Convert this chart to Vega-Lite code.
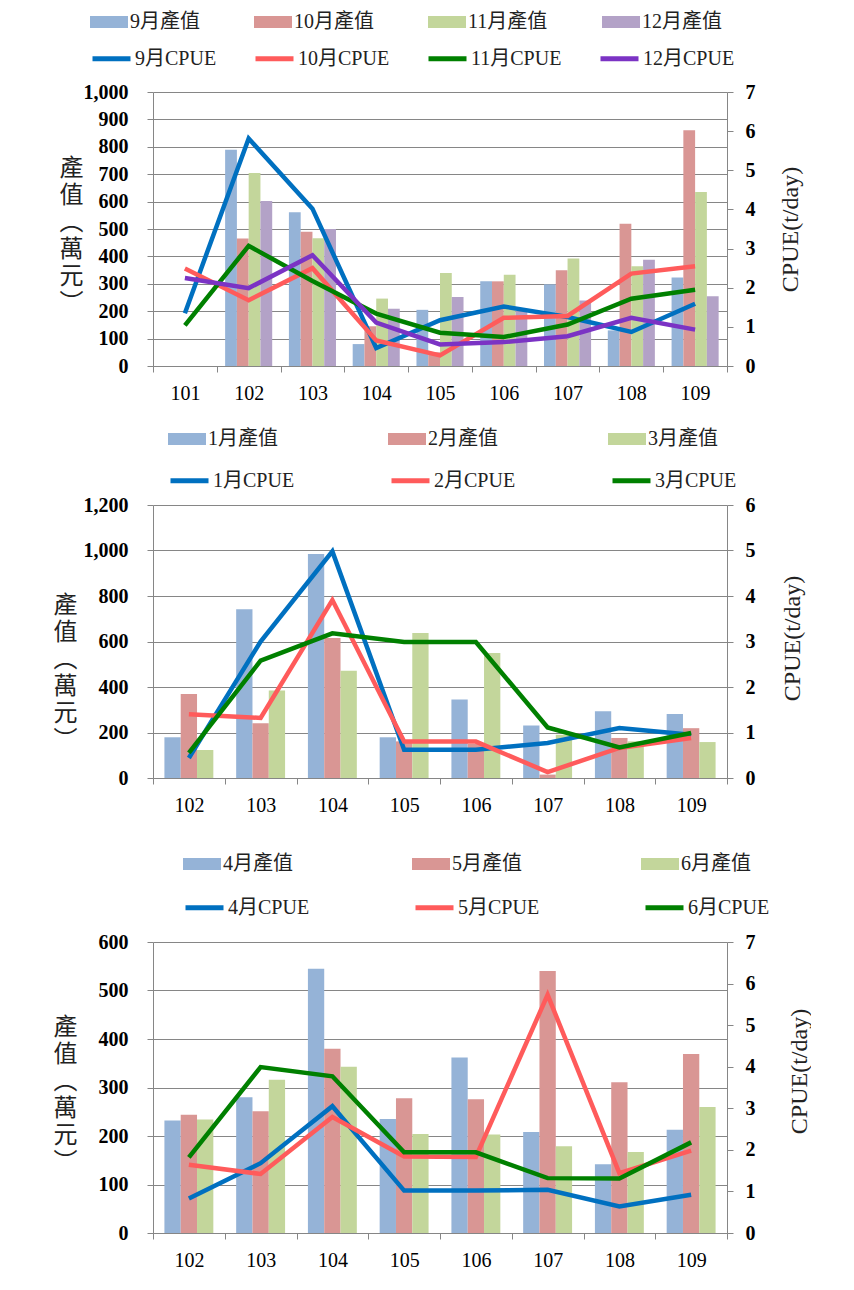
{
  "$schema": "https://vega.github.io/schema/vega-lite/v6.json",
  "background": "white",
  "padding": {"left": 53, "top": 3, "right": 0, "bottom": 0},
  "datasets": {
    "bars1": [
      {"year": "102", "series": "9月產值", "value": 789}, {"year": "102", "series": "10月產值", "value": 465}, {"year": "102", "series": "11月產值", "value": 704}, {"year": "102", "series": "12月產值", "value": 602},
      {"year": "103", "series": "9月產值", "value": 561}, {"year": "103", "series": "10月產值", "value": 490}, {"year": "103", "series": "11月產值", "value": 466}, {"year": "103", "series": "12月產值", "value": 500},
      {"year": "104", "series": "9月產值", "value": 80}, {"year": "104", "series": "10月產值", "value": 145}, {"year": "104", "series": "11月產值", "value": 246}, {"year": "104", "series": "12月產值", "value": 209},
      {"year": "105", "series": "9月產值", "value": 205}, {"year": "105", "series": "10月產值", "value": 50}, {"year": "105", "series": "11月產值", "value": 339}, {"year": "105", "series": "12月產值", "value": 252},
      {"year": "106", "series": "9月產值", "value": 309}, {"year": "106", "series": "10月產值", "value": 309}, {"year": "106", "series": "11月產值", "value": 333}, {"year": "106", "series": "12月產值", "value": 200},
      {"year": "107", "series": "9月產值", "value": 298}, {"year": "107", "series": "10月產值", "value": 349}, {"year": "107", "series": "11月產值", "value": 392}, {"year": "107", "series": "12月產值", "value": 239},
      {"year": "108", "series": "9月產值", "value": 130}, {"year": "108", "series": "10月產值", "value": 519}, {"year": "108", "series": "11月產值", "value": 364}, {"year": "108", "series": "12月產值", "value": 388},
      {"year": "109", "series": "9月產值", "value": 323}, {"year": "109", "series": "10月產值", "value": 860}, {"year": "109", "series": "11月產值", "value": 635}, {"year": "109", "series": "12月產值", "value": 255}
    ],
    "lines1": [
      {"year": "101", "series": "9月CPUE", "cpue": 1.35}, {"year": "102", "series": "9月CPUE", "cpue": 5.81}, {"year": "103", "series": "9月CPUE", "cpue": 4.02}, {"year": "104", "series": "9月CPUE", "cpue": 0.46}, {"year": "105", "series": "9月CPUE", "cpue": 1.17}, {"year": "106", "series": "9月CPUE", "cpue": 1.52}, {"year": "107", "series": "9月CPUE", "cpue": 1.25}, {"year": "108", "series": "9月CPUE", "cpue": 0.87}, {"year": "109", "series": "9月CPUE", "cpue": 1.59},
      {"year": "101", "series": "10月CPUE", "cpue": 2.49}, {"year": "102", "series": "10月CPUE", "cpue": 1.68}, {"year": "103", "series": "10月CPUE", "cpue": 2.5}, {"year": "104", "series": "10月CPUE", "cpue": 0.65}, {"year": "105", "series": "10月CPUE", "cpue": 0.27}, {"year": "106", "series": "10月CPUE", "cpue": 1.23}, {"year": "107", "series": "10月CPUE", "cpue": 1.28}, {"year": "108", "series": "10月CPUE", "cpue": 2.36}, {"year": "109", "series": "10月CPUE", "cpue": 2.55},
      {"year": "101", "series": "11月CPUE", "cpue": 1.04}, {"year": "102", "series": "11月CPUE", "cpue": 3.07}, {"year": "103", "series": "11月CPUE", "cpue": 2.17}, {"year": "104", "series": "11月CPUE", "cpue": 1.34}, {"year": "105", "series": "11月CPUE", "cpue": 0.85}, {"year": "106", "series": "11月CPUE", "cpue": 0.74}, {"year": "107", "series": "11月CPUE", "cpue": 1.06}, {"year": "108", "series": "11月CPUE", "cpue": 1.72}, {"year": "109", "series": "11月CPUE", "cpue": 1.95},
      {"year": "101", "series": "12月CPUE", "cpue": 2.25}, {"year": "102", "series": "12月CPUE", "cpue": 1.99}, {"year": "103", "series": "12月CPUE", "cpue": 2.83}, {"year": "104", "series": "12月CPUE", "cpue": 1.11}, {"year": "105", "series": "12月CPUE", "cpue": 0.55}, {"year": "106", "series": "12月CPUE", "cpue": 0.61}, {"year": "107", "series": "12月CPUE", "cpue": 0.76}, {"year": "108", "series": "12月CPUE", "cpue": 1.23}, {"year": "109", "series": "12月CPUE", "cpue": 0.93}
    ],
    "bars2": [
      {"year": "102", "series": "1月產值", "value": 179}, {"year": "102", "series": "2月產值", "value": 369}, {"year": "102", "series": "3月產值", "value": 123},
      {"year": "103", "series": "1月產值", "value": 742}, {"year": "103", "series": "2月產值", "value": 241}, {"year": "103", "series": "3月產值", "value": 385},
      {"year": "104", "series": "1月產值", "value": 985}, {"year": "104", "series": "2月產值", "value": 615}, {"year": "104", "series": "3月產值", "value": 471},
      {"year": "105", "series": "1月產值", "value": 179}, {"year": "105", "series": "2月產值", "value": 161}, {"year": "105", "series": "3月產值", "value": 637},
      {"year": "106", "series": "1月產值", "value": 345}, {"year": "106", "series": "2月產值", "value": 150}, {"year": "106", "series": "3月產值", "value": 549},
      {"year": "107", "series": "1月產值", "value": 231}, {"year": "107", "series": "2月產值", "value": 15}, {"year": "107", "series": "3月產值", "value": 190},
      {"year": "108", "series": "1月產值", "value": 293}, {"year": "108", "series": "2月產值", "value": 176}, {"year": "108", "series": "3月產值", "value": 161},
      {"year": "109", "series": "1月產值", "value": 281}, {"year": "109", "series": "2月產值", "value": 219}, {"year": "109", "series": "3月產值", "value": 158}
    ],
    "lines2": [
      {"year": "102", "series": "1月CPUE", "cpue": 0.44}, {"year": "103", "series": "1月CPUE", "cpue": 3.0}, {"year": "104", "series": "1月CPUE", "cpue": 4.98}, {"year": "105", "series": "1月CPUE", "cpue": 0.62}, {"year": "106", "series": "1月CPUE", "cpue": 0.62}, {"year": "107", "series": "1月CPUE", "cpue": 0.77}, {"year": "108", "series": "1月CPUE", "cpue": 1.1}, {"year": "109", "series": "1月CPUE", "cpue": 0.95},
      {"year": "102", "series": "2月CPUE", "cpue": 1.4}, {"year": "103", "series": "2月CPUE", "cpue": 1.32}, {"year": "104", "series": "2月CPUE", "cpue": 3.91}, {"year": "105", "series": "2月CPUE", "cpue": 0.8}, {"year": "106", "series": "2月CPUE", "cpue": 0.8}, {"year": "107", "series": "2月CPUE", "cpue": 0.13}, {"year": "108", "series": "2月CPUE", "cpue": 0.66}, {"year": "109", "series": "2月CPUE", "cpue": 0.88},
      {"year": "102", "series": "3月CPUE", "cpue": 0.55}, {"year": "103", "series": "3月CPUE", "cpue": 2.58}, {"year": "104", "series": "3月CPUE", "cpue": 3.18}, {"year": "105", "series": "3月CPUE", "cpue": 2.99}, {"year": "106", "series": "3月CPUE", "cpue": 2.99}, {"year": "107", "series": "3月CPUE", "cpue": 1.11}, {"year": "108", "series": "3月CPUE", "cpue": 0.67}, {"year": "109", "series": "3月CPUE", "cpue": 0.99}
    ],
    "bars3": [
      {"year": "102", "series": "4月產值", "value": 232}, {"year": "102", "series": "5月產值", "value": 244}, {"year": "102", "series": "6月產值", "value": 234},
      {"year": "103", "series": "4月產值", "value": 280}, {"year": "103", "series": "5月產值", "value": 251}, {"year": "103", "series": "6月產值", "value": 316},
      {"year": "104", "series": "4月產值", "value": 545}, {"year": "104", "series": "5月產值", "value": 380}, {"year": "104", "series": "6月產值", "value": 343},
      {"year": "105", "series": "4月產值", "value": 235}, {"year": "105", "series": "5月產值", "value": 278}, {"year": "105", "series": "6月產值", "value": 204},
      {"year": "106", "series": "4月產值", "value": 362}, {"year": "106", "series": "5月產值", "value": 276}, {"year": "106", "series": "6月產值", "value": 203},
      {"year": "107", "series": "4月產值", "value": 208}, {"year": "107", "series": "5月產值", "value": 540}, {"year": "107", "series": "6月產值", "value": 179},
      {"year": "108", "series": "4月產值", "value": 142}, {"year": "108", "series": "5月產值", "value": 311}, {"year": "108", "series": "6月產值", "value": 167},
      {"year": "109", "series": "4月產值", "value": 213}, {"year": "109", "series": "5月產值", "value": 369}, {"year": "109", "series": "6月產值", "value": 260}
    ],
    "lines3": [
      {"year": "102", "series": "4月CPUE", "cpue": 0.83}, {"year": "103", "series": "4月CPUE", "cpue": 1.68}, {"year": "104", "series": "4月CPUE", "cpue": 3.05}, {"year": "105", "series": "4月CPUE", "cpue": 1.02}, {"year": "106", "series": "4月CPUE", "cpue": 1.02}, {"year": "107", "series": "4月CPUE", "cpue": 1.04}, {"year": "108", "series": "4月CPUE", "cpue": 0.64}, {"year": "109", "series": "4月CPUE", "cpue": 0.92},
      {"year": "102", "series": "5月CPUE", "cpue": 1.64}, {"year": "103", "series": "5月CPUE", "cpue": 1.42}, {"year": "104", "series": "5月CPUE", "cpue": 2.79}, {"year": "105", "series": "5月CPUE", "cpue": 1.84}, {"year": "106", "series": "5月CPUE", "cpue": 1.83}, {"year": "107", "series": "5月CPUE", "cpue": 5.73}, {"year": "108", "series": "5月CPUE", "cpue": 1.44}, {"year": "109", "series": "5月CPUE", "cpue": 1.98},
      {"year": "102", "series": "6月CPUE", "cpue": 1.82}, {"year": "103", "series": "6月CPUE", "cpue": 3.99}, {"year": "104", "series": "6月CPUE", "cpue": 3.77}, {"year": "105", "series": "6月CPUE", "cpue": 1.94}, {"year": "106", "series": "6月CPUE", "cpue": 1.94}, {"year": "107", "series": "6月CPUE", "cpue": 1.32}, {"year": "108", "series": "6月CPUE", "cpue": 1.31}, {"year": "109", "series": "6月CPUE", "cpue": 2.18}
    ]
  },
  "spacing": 139,
  "bounds": "flush",
  "resolve": {
    "scale": {"x": "independent", "y": "independent", "xOffset": "independent", "color": "independent", "stroke": "independent"},
    "legend": {"color": "independent", "stroke": "independent"},
    "axis": {"x": "independent", "y": "independent"}
  },
  "vconcat": [
    {
      "width": 574, "height": 274,
      "resolve": {"scale": {"y": "independent"}},
      "layer": [
        {
          "data": {"name": "bars1"},
          "mark": {"type": "bar"},
          "encoding": {
            "x": {"field": "year", "type": "ordinal", "scale": {"domain": ["101","102","103","104","105","106","107","108","109"], "paddingInner": 0, "paddingOuter": 0},
                  "axis": {"title": null, "labelAngle": 0, "tickBand": "extent", "grid": false, "tickSize": 6, "labelPadding": 11, "labelFontSize": 20, "labelFontWeight": "normal"}},
            "xOffset": {"field": "series", "type": "nominal", "scale": {"domain": ["9月產值","10月產值","11月產值","12月產值"], "paddingInner": 0, "paddingOuter": 0.71}},
            "y": {"field": "value", "type": "quantitative", "scale": {"domain": [0, 1000], "nice": false},
                  "axis": {"values": [0,100,200,300,400,500,600,700,800,900,1000], "format": ",.0f", "grid": true, "tickSize": 6, "labelPadding": 19,
                           "title": ["產","值","︵","萬","元","︶"], "titleAngle": 0, "titleX": -82, "titleY": 64, "titleAlign": "center", "titleBaseline": "top", "titleFont": "Noto Sans CJK TC", "titleFontSize": 24, "titleFontWeight": "normal", "titleLineHeight": 27, "titleColor": "#222"}},
            "color": {"field": "series", "type": "nominal", "scale": {"domain": ["9月產值","10月產值","11月產值","12月產值"], "range": ["#95B3D7","#D99694","#C3D69B","#B3A2C7"]},
                      "legend": {"orient": "none", "legendX": -63, "legendY": -89, "direction": "horizontal", "columns": 4, "title": null, "symbolType": "M-1,-0.32H1V0.32H-1Z", "symbolSize": 1444, "symbolStrokeWidth": 0, "symbolOpacity": 1, "columnPadding": 54, "labelOffset": 2}}
          }
        },
        {
          "data": {"name": "lines1"},
          "mark": {"type": "line", "strokeWidth": 4.5},
          "encoding": {
            "x": {"field": "year", "type": "ordinal"},
            "y": {"field": "cpue", "type": "quantitative", "scale": {"domain": [0, 7], "nice": false},
                  "axis": {"orient": "right", "values": [0,1,2,3,4,5,6,7], "grid": false, "tickSize": 6, "labelPadding": 12,
                           "title": "CPUE(t/day)", "titleAngle": 270, "titleX": 63, "titleY": 137, "titleAlign": "center", "titleBaseline": "middle", "titleFont": "Liberation Serif", "titleFontSize": 24, "titleFontWeight": "normal", "titleColor": "#222"}},
            "stroke": {"field": "series", "type": "nominal", "scale": {"domain": ["9月CPUE","10月CPUE","11月CPUE","12月CPUE"], "range": ["#0070C0","#FF5B5B","#008000","#7B33C4"]},
                       "legend": {"orient": "none", "legendX": -63, "legendY": -55, "direction": "horizontal", "columns": 4, "title": null, "symbolType": "stroke", "symbolSize": 1444, "symbolStrokeWidth": 5, "columnPadding": 28, "labelOffset": 2}}
          }
        }
      ]
    },
    {
      "spacing": 164,
      "bounds": "flush",
      "resolve": {
        "scale": {"x": "independent", "y": "independent", "xOffset": "independent", "color": "independent", "stroke": "independent"},
        "legend": {"color": "independent", "stroke": "independent"},
        "axis": {"x": "independent", "y": "independent"}
      },
      "vconcat": [
        {
          "width": 574, "height": 273,
          "resolve": {"scale": {"y": "independent"}},
          "layer": [
            {
              "data": {"name": "bars2"},
              "mark": {"type": "bar"},
              "encoding": {
                "x": {"field": "year", "type": "ordinal", "scale": {"domain": ["102","103","104","105","106","107","108","109"], "paddingInner": 0, "paddingOuter": 0},
                      "axis": {"title": null, "labelAngle": 0, "tickBand": "extent", "grid": false, "tickSize": 6, "labelPadding": 11, "labelFontSize": 20, "labelFontWeight": "normal"}},
                "xOffset": {"field": "series", "type": "nominal", "scale": {"domain": ["1月產值","2月產值","3月產值"], "paddingInner": 0, "paddingOuter": 0.7}},
                "y": {"field": "value", "type": "quantitative", "scale": {"domain": [0, 1200], "nice": false},
                      "axis": {"values": [0,200,400,600,800,1000,1200], "format": ",.0f", "grid": true, "tickSize": 6, "labelPadding": 19,
                               "title": ["產","值","︵","萬","元","︶"], "titleAngle": 0, "titleX": -88, "titleY": 88, "titleAlign": "center", "titleBaseline": "top", "titleFont": "Noto Sans CJK TC", "titleFontSize": 24, "titleFontWeight": "normal", "titleLineHeight": 27, "titleColor": "#222"}},
                "color": {"field": "series", "type": "nominal", "scale": {"domain": ["1月產值","2月產值","3月產值"], "range": ["#95B3D7","#D99694","#C3D69B"]},
                          "legend": {"orient": "none", "legendX": 15, "legendY": -85, "direction": "horizontal", "columns": 3, "title": null, "symbolType": "M-1,-0.32H1V0.32H-1Z", "symbolSize": 1444, "symbolStrokeWidth": 0, "symbolOpacity": 1, "columnPadding": 110, "labelOffset": 2}}
              }
            },
            {
              "data": {"name": "lines2"},
              "mark": {"type": "line", "strokeWidth": 4.5},
              "encoding": {
                "x": {"field": "year", "type": "ordinal"},
                "y": {"field": "cpue", "type": "quantitative", "scale": {"domain": [0, 6], "nice": false},
                      "axis": {"orient": "right", "values": [0,1,2,3,4,5,6], "grid": false, "tickSize": 6, "labelPadding": 12,
                               "title": "CPUE(t/day)", "titleAngle": 270, "titleX": 65, "titleY": 133, "titleAlign": "center", "titleBaseline": "middle", "titleFont": "Liberation Serif", "titleFontSize": 24, "titleFontWeight": "normal", "titleColor": "#222"}},
                "stroke": {"field": "series", "type": "nominal", "scale": {"domain": ["1月CPUE","2月CPUE","3月CPUE"], "range": ["#0070C0","#FF5B5B","#008000"]},
                           "legend": {"orient": "none", "legendX": 15, "legendY": -46, "direction": "horizontal", "columns": 3, "title": null, "symbolType": "stroke", "symbolSize": 1444, "symbolStrokeWidth": 5, "columnPadding": 86, "labelOffset": 2}}
              }
            }
          ]
        },
        {
          "width": 574, "height": 291,
          "resolve": {"scale": {"y": "independent"}},
          "layer": [
            {
              "data": {"name": "bars3"},
              "mark": {"type": "bar"},
              "encoding": {
                "x": {"field": "year", "type": "ordinal", "scale": {"domain": ["102","103","104","105","106","107","108","109"], "paddingInner": 0, "paddingOuter": 0},
                      "axis": {"title": null, "labelAngle": 0, "tickBand": "extent", "grid": false, "tickSize": 6, "labelPadding": 11, "labelFontSize": 20, "labelFontWeight": "normal"}},
                "xOffset": {"field": "series", "type": "nominal", "scale": {"domain": ["4月產值","5月產值","6月產值"], "paddingInner": 0, "paddingOuter": 0.7}},
                "y": {"field": "value", "type": "quantitative", "scale": {"domain": [0, 600], "nice": false},
                      "axis": {"values": [0,100,200,300,400,500,600], "format": ",.0f", "grid": true, "tickSize": 6, "labelPadding": 19,
                               "title": ["產","值","︵","萬","元","︶"], "titleAngle": 0, "titleX": -88, "titleY": 73, "titleAlign": "center", "titleBaseline": "top", "titleFont": "Noto Sans CJK TC", "titleFontSize": 24, "titleFontWeight": "normal", "titleLineHeight": 27, "titleColor": "#222"}},
                "color": {"field": "series", "type": "nominal", "scale": {"domain": ["4月產值","5月產值","6月產值"], "range": ["#95B3D7","#D99694","#C3D69B"]},
                          "legend": {"orient": "none", "legendX": 30, "legendY": -97, "direction": "horizontal", "columns": 3, "title": null, "symbolType": "M-1,-0.32H1V0.32H-1Z", "symbolSize": 1444, "symbolStrokeWidth": 0, "symbolOpacity": 1, "columnPadding": 119, "labelOffset": 2}}
              }
            },
            {
              "data": {"name": "lines3"},
              "mark": {"type": "line", "strokeWidth": 4.5},
              "encoding": {
                "x": {"field": "year", "type": "ordinal"},
                "y": {"field": "cpue", "type": "quantitative", "scale": {"domain": [0, 7], "nice": false},
                      "axis": {"orient": "right", "values": [0,1,2,3,4,5,6,7], "grid": false, "tickSize": 6, "labelPadding": 12,
                               "title": "CPUE(t/day)", "titleAngle": 270, "titleX": 72, "titleY": 129, "titleAlign": "center", "titleBaseline": "middle", "titleFont": "Liberation Serif", "titleFontSize": 24, "titleFontWeight": "normal", "titleColor": "#222"}},
                "stroke": {"field": "series", "type": "nominal", "scale": {"domain": ["4月CPUE","5月CPUE","6月CPUE"], "range": ["#0070C0","#FF5B5B","#008000"]},
                           "legend": {"orient": "none", "legendX": 30, "legendY": -56, "direction": "horizontal", "columns": 3, "title": null, "symbolType": "stroke", "symbolSize": 1444, "symbolStrokeWidth": 5, "columnPadding": 95, "labelOffset": 2}}
              }
            }
          ]
        }
      ]
    }
  ],
  "config": {
    "view": {"stroke": null},
    "axis": {"domainColor": "#868686", "tickColor": "#868686", "gridColor": "#868686", "gridOpacity": 1, "labelColor": "#000", "labelFont": "Liberation Serif", "labelFontSize": 20, "labelFontWeight": "bold"},
    "legend": {"labelFont": "Liberation Serif, Noto Sans CJK TC", "labelFontSize": 20, "labelColor": "#222", "labelLimit": 400, "rowPadding": 0}
  }
}
